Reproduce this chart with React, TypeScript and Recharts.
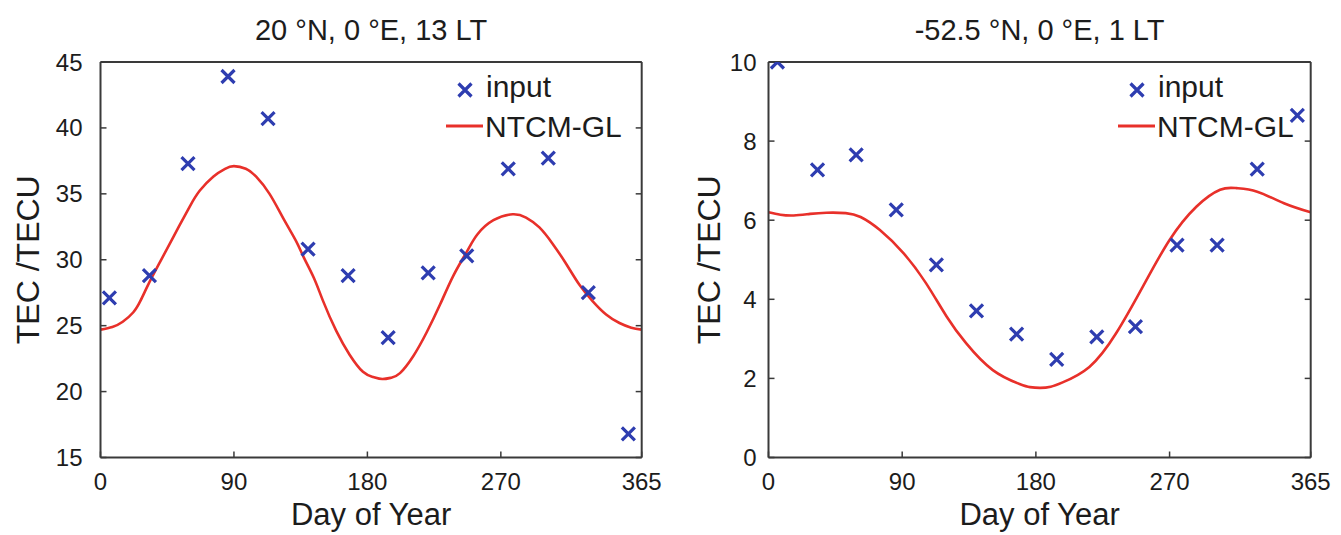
import React from 'react';
import { ComposedChart, Line, Scatter, XAxis, YAxis, Legend } from 'recharts';

// ---- data ----
const INPUT_DAYS = [6, 33, 59, 86, 113, 140, 167, 194, 221, 247, 275, 302, 329, 356];
const LEFT_INPUT = [27.1, 28.8, 37.3, 43.9, 40.7, 30.8, 28.8, 24.1, 29.0, 30.3, 36.9, 37.7, 27.5, 16.8];
const RIGHT_INPUT = [10.0, 7.27, 7.65, 6.26, 4.87, 3.71, 3.12, 2.48, 3.05, 3.31, 5.37, 5.37, 7.29, 8.65];

const LEFT_MODEL_DAYS = [0, 8, 15, 22, 27, 33, 40, 49, 60, 67, 76, 84, 90, 98, 105, 114, 123, 132, 137, 144, 150, 159, 168, 177, 184, 190, 196, 202, 211, 220, 229, 238, 247, 254, 265, 278, 287, 296, 305, 314, 323, 332, 341, 350, 358, 365];
const LEFT_MODEL = [24.7, 24.9, 25.3, 26.0, 26.9, 28.3, 29.8, 31.7, 34.0, 35.25, 36.3, 36.9, 37.1, 36.9, 36.3, 35.0, 33.2, 31.4, 30.2, 28.6, 26.9, 24.6, 22.8, 21.5, 21.1, 20.95, 21.05, 21.4, 22.7, 24.5, 26.6, 28.8, 30.6, 31.9, 33.0, 33.45, 33.2, 32.45, 31.2, 29.7, 28.1, 26.85, 25.85, 25.2, 24.85, 24.7];

const RIGHT_MODEL_DAYS = [0, 8, 17, 28, 39, 52, 62, 75, 91, 106, 120, 133, 151, 169, 176, 183, 190, 198, 216, 234, 252, 270, 288, 304, 315, 329, 347, 365];
const RIGHT_MODEL = [6.2, 6.14, 6.12, 6.16, 6.19, 6.18, 6.08, 5.75, 5.16, 4.41, 3.56, 2.89, 2.21, 1.86, 1.78, 1.76, 1.79, 1.9, 2.29, 3.14, 4.32, 5.5, 6.34, 6.77, 6.81, 6.72, 6.43, 6.2];

const X_TICKS = [0, 90, 180, 270, 365];
const LEFT_Y_TICKS = [15, 20, 25, 30, 35, 40, 45];
const RIGHT_Y_TICKS = [0, 2, 4, 6, 8, 10];

const LEFT_TITLE = '20 °N, 0 °E, 13 LT';
const RIGHT_TITLE = '-52.5 °N, 0 °E, 1 LT';
const X_LABEL = 'Day of Year';
const Y_LABEL = 'TEC /TECU';
const SERIES_INPUT = 'input';
const SERIES_MODEL = 'NTCM-GL';

// ---- styles ----
const FONT = '"Liberation Sans", Arial, Helvetica, sans-serif';
const AXIS_COLOR = '#3a3a3a';
const TEXT_COLOR = '#1c1c1c';
const MARK_COLOR = '#2e3db0';
const LINE_COLOR = '#e8302a';

const CHART_H = 535;

const XMark = (props: any) => {
  const { cx, cy } = props;
  if (cx == null || cy == null) return null;
  const s = 6.5;
  return (
    <path
      d={`M${cx - s},${cy - s}L${cx + s},${cy + s}M${cx - s},${cy + s}L${cx + s},${cy - s}`}
      stroke={MARK_COLOR}
      strokeWidth={3.2}
      fill="none"
    />
  );
};

type PanelProps = {
  width: number;
  left: number;
  marginLeft: number;
  marginRight: number;
  title: string;
  modelDays: number[];
  model: number[];
  input: number[];
  yDomain: [number, number];
  yTicks: number[];
  yTickMargin: number;
  yLabelBaselineX: number;
  legendX: number;
};

const Panel = (p: PanelProps) => {
  const lineData = p.modelDays.map((d, i) => ({ day: d, tec: p.model[i] }));
  const scatterData = INPUT_DAYS.map((d, i) => ({ day: d, tec: p.input[i] }));
  const tickStyle = { fontSize: 24, fill: TEXT_COLOR, fontFamily: FONT };
  const axisLine = { stroke: AXIS_COLOR, strokeWidth: 2 };
  const tickLine = { stroke: AXIS_COLOR, strokeWidth: 1.5 };

  const legendContent = () => (
    <svg width={p.width} height={160} style={{ display: 'block', overflow: 'visible' }}>
      <XMark cx={p.legendX} cy={90} />
      <text x={p.legendX + 21} y={97} fontSize={30} fontFamily={FONT} fill={TEXT_COLOR}>
        {SERIES_INPUT}
      </text>
      <line x1={p.legendX - 19} x2={p.legendX + 18} y1={126} y2={126} stroke={LINE_COLOR} strokeWidth={3} />
      <text x={p.legendX + 20} y={137} fontSize={30} fontFamily={FONT} fill={TEXT_COLOR}>
        {SERIES_MODEL}
      </text>
    </svg>
  );

  return (
    <div style={{ position: 'absolute', left: p.left, top: 0, width: p.width, height: CHART_H }}>
      <ComposedChart
        width={p.width}
        height={CHART_H}
        margin={{ top: 61, right: p.marginRight, bottom: 47.5, left: p.marginLeft }}
      >
        <XAxis
          xAxisId="b"
          dataKey="day"
          type="number"
          domain={[0, 365]}
          ticks={X_TICKS}
          interval={0}
          height={30}
          tickSize={-6}
          tickMargin={21}
          axisLine={axisLine}
          tickLine={tickLine}
          tick={tickStyle}
          label={{
            content: (lp: any) => {
              const vb = lp.viewBox || {};
              return (
                <text x={vb.x + vb.width / 2} y={525} textAnchor="middle" fontSize={31} fontFamily={FONT} fill={TEXT_COLOR}>
                  {X_LABEL}
                </text>
              );
            },
          }}
        />
        <XAxis
          xAxisId="t"
          orientation="top"
          dataKey="day"
          type="number"
          domain={[0, 365]}
          ticks={X_TICKS}
          interval={0}
          height={1}
          tickSize={-6}
          axisLine={axisLine}
          tickLine={tickLine}
          tickFormatter={() => ''}
          label={{
            content: (lp: any) => {
              const vb = lp.viewBox || {};
              return (
                <text x={vb.x + vb.width / 2} y={40} textAnchor="middle" fontSize={29} fontFamily={FONT} fill={TEXT_COLOR}>
                  {p.title}
                </text>
              );
            },
          }}
        />
        <YAxis
          yAxisId="l"
          type="number"
          domain={p.yDomain}
          ticks={p.yTicks}
          interval={0}
          width={60}
          tickSize={-6}
          tickMargin={p.yTickMargin}
          axisLine={axisLine}
          tickLine={tickLine}
          tick={tickStyle}
          allowDataOverflow
          label={{
            content: (lp: any) => {
              const vb = lp.viewBox || {};
              const cy = vb.y + vb.height / 2;
              const x = p.yLabelBaselineX;
              return (
                <text
                  x={x}
                  y={cy}
                  transform={`rotate(-90, ${x}, ${cy})`}
                  textAnchor="middle"
                  fontSize={32}
                  fontFamily={FONT}
                  fill={TEXT_COLOR}
                >
                  {Y_LABEL}
                </text>
              );
            },
          }}
        />
        <YAxis
          yAxisId="r"
          orientation="right"
          type="number"
          domain={p.yDomain}
          ticks={p.yTicks}
          interval={0}
          width={1}
          tickSize={-6}
          axisLine={axisLine}
          tickLine={tickLine}
          tickFormatter={() => ''}
          allowDataOverflow
        />
        <Legend
          layout="horizontal"
          align="center"
          verticalAlign="middle"
          content={legendContent}
          wrapperStyle={{ position: 'absolute', left: 0, top: 0, width: p.width, height: 160, pointerEvents: 'none' }}
        />
        <Line
          xAxisId="b"
          yAxisId="l"
          data={lineData}
          dataKey="tec"
          name={SERIES_MODEL}
          type="natural"
          stroke={LINE_COLOR}
          strokeWidth={2.6}
          dot={false}
          activeDot={false}
          isAnimationActive={false}
        />
        <Scatter
          xAxisId="b"
          yAxisId="l"
          data={scatterData}
          dataKey="tec"
          name={SERIES_INPUT}
          shape={<XMark />}
          isAnimationActive={false}
        />
      </ComposedChart>
    </div>
  );
};

export default function App() {
  return (
    <div style={{ position: 'absolute', left: 0, top: 0, width: 1341, height: CHART_H, background: '#fff', overflow: 'hidden' }}>
      <Panel
        width={670}
        left={0}
        marginLeft={40.5}
        marginRight={27.3}
        title={LEFT_TITLE}
        modelDays={LEFT_MODEL_DAYS}
        model={LEFT_MODEL}
        input={LEFT_INPUT}
        yDomain={[15, 45]}
        yTicks={LEFT_Y_TICKS}
        yTickMargin={24}
        yLabelBaselineX={39}
        legendX={465}
      />
      <Panel
        width={671}
        left={670}
        marginLeft={38.5}
        marginRight={29.3}
        title={RIGHT_TITLE}
        modelDays={RIGHT_MODEL_DAYS}
        model={RIGHT_MODEL}
        input={RIGHT_INPUT}
        yDomain={[0, 10]}
        yTicks={RIGHT_Y_TICKS}
        yTickMargin={18}
        yLabelBaselineX={50}
        legendX={467}
      />
    </div>
  );
}
